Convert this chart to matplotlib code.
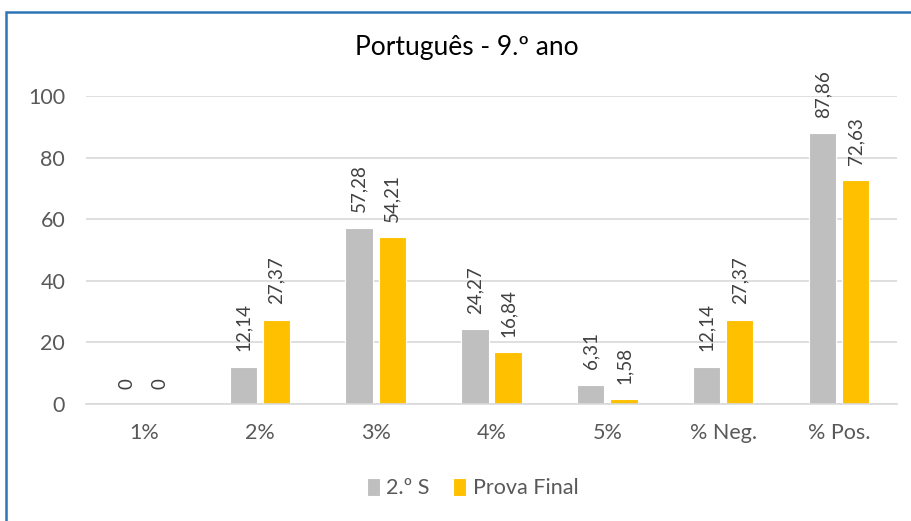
import numpy as np
import matplotlib.pyplot as plt
from matplotlib.patches import Rectangle

categories = ["1%", "2%", "3%", "4%", "5%", "% Neg.", "% Pos."]
semestre = [0, 12.14, 57.28, 24.27, 6.31, 12.14, 87.86]
prova = [0, 27.37, 54.21, 16.84, 1.58, 27.37, 72.63]
series_names = ["2.º S", "Prova Final"]
yticks = [0, 20, 40, 60, 80, 100]

plt.rcParams["font.family"] = ["Lato", "DejaVu Sans"]

fig = plt.figure(figsize=(9.12, 5.21), dpi=100)
ax = fig.add_axes([86 / 912, 1 - 404 / 521, 811 / 912, 308 / 521])

x = np.arange(len(categories))
w = 0.235
b1 = ax.bar(x - 0.143, semestre, w, color="#BFBFBF", edgecolor="white", linewidth=0.8,
            label=series_names[0], zorder=2)
b2 = ax.bar(x + 0.143, prova, w, color="#FFC000", edgecolor="white", linewidth=0.8,
            label=series_names[1], zorder=2)

for bars, vals in ((b1, semestre), (b2, prova)):
    for bar, v in zip(bars, vals):
        txt = f"{v:.2f}".replace(".", ",") if v != 0 else "0"
        ax.annotate(txt, (bar.get_x() + bar.get_width() / 2, v), xytext=(0, 11),
                    textcoords="offset points", rotation=90, ha="center", va="bottom",
                    fontsize=13.5, color="#404040")

ax.set_xlim(-0.5, len(categories) - 0.5)
ax.set_ylim(0, 100)
ax.set_yticks(yticks)
ax.set_xticks(x)
ax.set_xticklabels(categories)
ax.tick_params(axis="both", length=0, labelsize=15.5, colors="#595959")
ax.tick_params(axis="x", pad=14)
ax.tick_params(axis="y", pad=15)
ax.grid(axis="y", color="#D9D9D9", linewidth=1.2, zorder=0)
ax.set_axisbelow(True)
for s in ["top", "right", "left"]:
    ax.spines[s].set_visible(False)
ax.spines["bottom"].set_color("#D9D9D9")
ax.spines["bottom"].set_linewidth(1.2)

fig.text(0.512, 1 - 48 / 521, "Português - 9.º ano", ha="center", va="center",
         fontsize=19, color="black")

fig.legend(handles=[b1, b2], labels=series_names, loc="center", bbox_to_anchor=(0.518, 1 - 488 / 521),
           ncol=2, frameon=False, fontsize=15.5, labelcolor="#595959", handlelength=0.6,
           handleheight=0.9, handletextpad=0.3, columnspacing=1.1)

fig.patches.append(Rectangle((6 / 912, -0.1), 1.2, 0.1 + 1 - 12 / 521, transform=fig.transFigure,
                             fill=False, edgecolor="#2E75B6", linewidth=1.8, figure=fig))

fig.savefig("out.png", dpi=100)
